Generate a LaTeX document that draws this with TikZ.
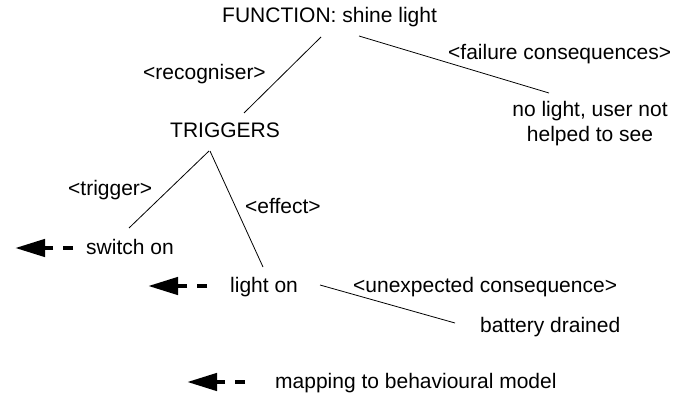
\documentclass[tikz,border=0pt]{standalone}
\usepackage{fontspec}
\setmainfont{Liberation Sans}
\usetikzlibrary{arrows.meta}

\begin{document}
\begin{tikzpicture}[x=1pt, y=1pt,
    lbl/.style={inner sep=0pt, anchor=base west, font=\fontsize{21}{25}\selectfont},
    link/.style={line width=0.8pt},
    mapto/.style={line width=4.5pt, dash pattern=on 10pt off 10pt,
      -{Triangle[length=30pt, width=17pt]}}]
    \useasboundingbox (0, 0) rectangle (674, 394);

    \node[lbl] (func) at (222, 371) {FUNCTION: shine light};
    \node[lbl] (recog) at (143, 314) {<recogniser>};
    \node[lbl] (failure) at (448, 334) {<failure consequences>};
    \node[lbl] (trig) at (170, 256) {TRIGGERS};
    \node[lbl, anchor=north, align=center] (nolight) at (590, 293)
      {no light, user not\\helped to see};
    \node[lbl] (trigger) at (68, 199) {<trigger>};
    \node[lbl] (effect) at (245, 181) {<effect>};
    \node[lbl] (switchon) at (86, 140) {switch on};
    \node[lbl] (lighton) at (230, 102) {light on};
    \node[lbl] (unexp) at (353, 102) {<unexpected consequence>};
    \node[lbl] (battery) at (480, 62) {battery drained};
    \node[lbl] (legend) at (275, 6) {mapping to behavioural model};

    \draw[link] ([shift={(99, -14)}]func.base west) -- ([shift={(74, 25)}]trig.base west);
    \draw[link] ([shift={(137, -13)}]func.base west) -- ([shift={(-41, 8)}]nolight.north);
    \draw[link] ([shift={(39, -13)}]trig.base west) -- ([shift={(43, 26)}]switchon.base west);
    \draw[link] ([shift={(40, -13)}]trig.base west) -- ([shift={(33, 25)}]lighton.base west);
    \draw[link] ([shift={(90, 7)}]lighton.base west) -- ([shift={(-25, 9)}]battery.base west);

    \draw[mapto] ([shift={(-13, 6)}]switchon.base west) -- ++(-58, 0);
    \draw[mapto] ([shift={(-23, 6)}]lighton.base west) -- ++(-59, 0);
    \draw[mapto] ([shift={(-30, 6)}]legend.base west) -- ++(-58, 0);
\end{tikzpicture}
\end{document}
